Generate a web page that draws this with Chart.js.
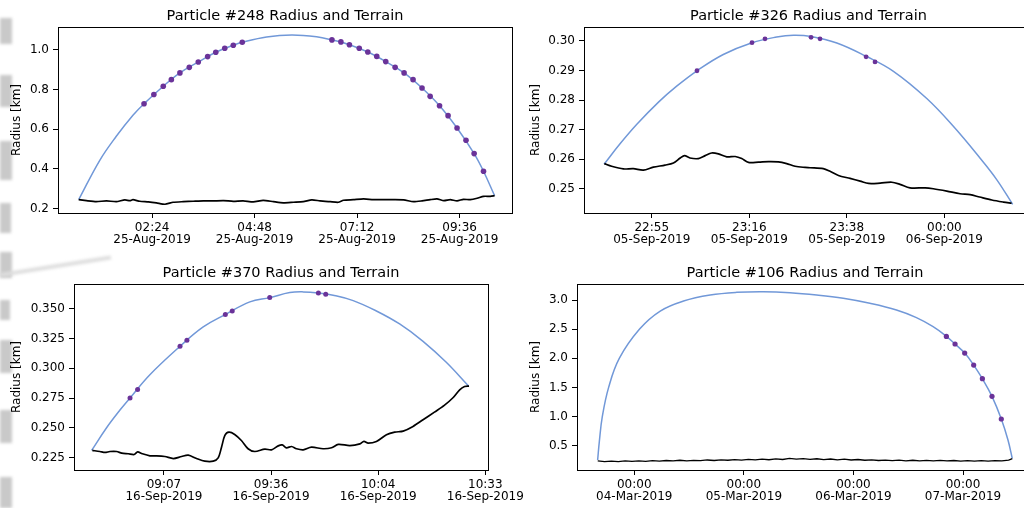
<!DOCTYPE html>
<html>
<head>
<meta charset="utf-8">
<script src="https://cdn.jsdelivr.net/npm/chart.js@4.4.0/dist/chart.umd.min.js"></script>
<style>
html, body { margin: 0; padding: 0; width: 1024px; height: 508px; overflow: hidden; background: #fff; }
canvas { position: absolute; }
.smudge { position: absolute; left: 0; background: #c9c9c9; filter: blur(1.5px); }
</style>
</head>
<body>
<div class="smudge" style="top:18px;height:26px;width:12px"></div>
<div class="smudge" style="top:75px;height:32px;width:12px"></div>
<div class="smudge" style="top:141px;height:39px;width:12px"></div>
<div class="smudge" style="top:203px;height:30px;width:11px"></div>
<div class="smudge" style="top:252px;height:26px;width:12px"></div>
<div class="smudge" style="top:273px;left:0;height:4px;width:112px;background:#dedede;transform:rotate(-9deg);transform-origin:0 0"></div>
<div class="smudge" style="top:300px;height:20px;width:10px"></div>
<div class="smudge" style="top:340px;height:33px;width:12px"></div>
<div class="smudge" style="top:410px;height:33px;width:12px"></div>
<div class="smudge" style="top:477px;height:31px;width:12px"></div>

<canvas id="p248"></canvas>
<canvas id="p326"></canvas>
<canvas id="p370"></canvas>
<canvas id="p106"></canvas>

<script>
// x values are hours from midnight of the first day shown in each panel

// Particle #248 (25-Aug-2019)
const p248RadX = [0.68, 1.17, 1.56, 1.95, 2.21, 2.66, 3.05, 3.48, 3.89, 4.30, 4.51, 5.08, 5.67, 6.25, 6.61, 7.02, 7.45, 7.87, 8.30, 8.72, 9.13, 9.54, 9.94, 10.16, 10.42];
const p248RadY = [0.245, 0.442, 0.564, 0.670, 0.728, 0.816, 0.883, 0.938, 0.987, 1.022, 1.037, 1.064, 1.074, 1.065, 1.049, 1.025, 0.988, 0.940, 0.883, 0.807, 0.718, 0.606, 0.477, 0.388, 0.265];
const p248DotX = [2.21, 2.44, 2.66, 2.85, 3.05, 3.27, 3.48, 3.70, 3.89, 4.10, 4.30, 4.51, 6.61, 6.82, 7.02, 7.25, 7.45, 7.66, 7.87, 8.09, 8.30, 8.51, 8.72, 8.91, 9.13, 9.33, 9.54, 9.75, 9.94, 10.16];
const p248DotY = [0.728, 0.774, 0.816, 0.849, 0.883, 0.911, 0.938, 0.965, 0.987, 1.007, 1.022, 1.037, 1.049, 1.039, 1.025, 1.007, 0.988, 0.966, 0.940, 0.911, 0.883, 0.849, 0.807, 0.765, 0.718, 0.668, 0.606, 0.544, 0.477, 0.388];
const p248TerX = [0.68, 0.86, 1.09, 1.33, 1.56, 1.76, 1.88, 1.95, 2.11, 2.31, 2.50, 2.70, 2.89, 3.13, 3.36, 3.60, 3.83, 4.07, 4.30, 4.53, 4.77, 5.00, 5.24, 5.47, 5.71, 5.94, 6.14, 6.33, 6.57, 6.76, 6.88, 7.11, 7.35, 7.58, 7.82, 8.05, 8.29, 8.52, 8.72, 8.91, 9.07, 9.23, 9.38, 9.54, 9.69, 9.85, 10.01, 10.16, 10.32, 10.42];
const p248TerY = [0.245, 0.240, 0.235, 0.239, 0.235, 0.244, 0.240, 0.245, 0.237, 0.234, 0.229, 0.222, 0.232, 0.235, 0.237, 0.239, 0.239, 0.240, 0.237, 0.239, 0.234, 0.242, 0.235, 0.229, 0.232, 0.235, 0.244, 0.239, 0.235, 0.232, 0.242, 0.245, 0.249, 0.245, 0.245, 0.245, 0.244, 0.235, 0.239, 0.245, 0.249, 0.240, 0.245, 0.239, 0.247, 0.245, 0.252, 0.262, 0.262, 0.265];
const p248TickX = [2.4, 4.8, 7.2, 9.6];
const p248TickLabels = [['02:24', '25-Aug-2019'], ['04:48', '25-Aug-2019'], ['07:12', '25-Aug-2019'], ['09:36', '25-Aug-2019']];
const p248TickY = [0.2, 0.4, 0.6, 0.8, 1.0];
const p248TickYLabels = ['0.2', '0.4', '0.6', '0.8', '1.0'];

// Particle #326 (05-Sep-2019)
const p326RadX = [22.744, 22.803, 22.865, 22.945, 23.012, 23.087, 23.184, 23.290, 23.381, 23.443, 23.508, 23.603, 23.711, 23.812, 23.935, 24.033, 24.132, 24.193, 24.252];
const p326RadY = [0.2583, 0.2652, 0.2718, 0.2793, 0.2847, 0.2899, 0.2954, 0.2994, 0.3013, 0.3019, 0.3015, 0.2993, 0.2948, 0.2897, 0.2805, 0.2711, 0.2603, 0.2531, 0.2447];
const p326DotX = [23.087, 23.290, 23.338, 23.508, 23.541, 23.711, 23.744];
const p326DotY = [0.2899, 0.2994, 0.3007, 0.3012, 0.3007, 0.2946, 0.2929];
const p326TerX = [22.745, 22.772, 22.815, 22.852, 22.889, 22.926, 22.969, 23.000, 23.025, 23.041, 23.061, 23.092, 23.117, 23.141, 23.166, 23.197, 23.228, 23.252, 23.277, 23.314, 23.351, 23.387, 23.418, 23.449, 23.486, 23.504, 23.553, 23.578, 23.609, 23.652, 23.689, 23.720, 23.763, 23.806, 23.836, 23.873, 23.929, 23.959, 24.009, 24.058, 24.095, 24.130, 24.175, 24.218, 24.248];
const p326TerY = [0.2585, 0.2576, 0.2567, 0.2568, 0.2563, 0.2573, 0.2580, 0.2587, 0.2604, 0.2612, 0.2604, 0.2602, 0.2612, 0.2621, 0.2618, 0.2608, 0.2609, 0.2602, 0.2589, 0.2590, 0.2592, 0.2591, 0.2585, 0.2576, 0.2572, 0.2571, 0.2568, 0.2559, 0.2545, 0.2535, 0.2526, 0.2518, 0.2519, 0.2522, 0.2515, 0.2503, 0.2503, 0.2500, 0.2492, 0.2483, 0.2480, 0.2472, 0.2462, 0.2455, 0.2451];
const p326TickX = [22.92, 23.28, 23.64, 24.0];
const p326TickLabels = [['22:55', '05-Sep-2019'], ['23:16', '05-Sep-2019'], ['23:38', '05-Sep-2019'], ['00:00', '06-Sep-2019']];
const p326TickY = [0.25, 0.26, 0.27, 0.28, 0.29, 0.30];
const p326TickYLabels = ['0.25', '0.26', '0.27', '0.28', '0.29', '0.30'];

// Particle #370 (16-Sep-2019)
const p370RadX = [8.796, 8.863, 8.923, 8.968, 9.057, 9.192, 9.296, 9.395, 9.505, 9.594, 9.684, 9.744, 9.812, 9.878, 9.968, 10.072, 10.176, 10.281, 10.385, 10.485];
const p370RadY = [0.2312, 0.2502, 0.2650, 0.2751, 0.2946, 0.3184, 0.3346, 0.3450, 0.3556, 0.3592, 0.3634, 0.3640, 0.3631, 0.3612, 0.3567, 0.3480, 0.3371, 0.3226, 0.3050, 0.2851];
const p370DotX = [8.968, 9.002, 9.192, 9.223, 9.395, 9.426, 9.594, 9.812, 9.845];
const p370DotY = [0.2751, 0.2823, 0.3184, 0.3234, 0.3450, 0.3480, 0.3592, 0.3631, 0.3620];
const p370TerX = [8.799, 8.833, 8.856, 8.878, 8.908, 8.931, 8.960, 8.987, 9.002, 9.023, 9.057, 9.087, 9.124, 9.162, 9.199, 9.229, 9.266, 9.303, 9.341, 9.363, 9.378, 9.393, 9.411, 9.437, 9.467, 9.497, 9.527, 9.572, 9.602, 9.632, 9.650, 9.669, 9.692, 9.714, 9.744, 9.781, 9.833, 9.871, 9.901, 9.953, 9.998, 10.016, 10.035, 10.072, 10.117, 10.154, 10.192, 10.236, 10.281, 10.332, 10.376, 10.415, 10.445, 10.467, 10.487];
const p370TerY = [0.2312, 0.2303, 0.2295, 0.2303, 0.2303, 0.2289, 0.2284, 0.2278, 0.2300, 0.2284, 0.2267, 0.2267, 0.2261, 0.2244, 0.2261, 0.2272, 0.2244, 0.2222, 0.2222, 0.2250, 0.2339, 0.2437, 0.2465, 0.2446, 0.2395, 0.2326, 0.2303, 0.2323, 0.2317, 0.2350, 0.2358, 0.2334, 0.2345, 0.2326, 0.2317, 0.2339, 0.2326, 0.2334, 0.2362, 0.2353, 0.2367, 0.2387, 0.2373, 0.2387, 0.2443, 0.2465, 0.2474, 0.2513, 0.2569, 0.2633, 0.2689, 0.2753, 0.2820, 0.2848, 0.2851];
const p370TickX = [9.12, 9.6, 10.08, 10.56];
const p370TickLabels = [['09:07', '16-Sep-2019'], ['09:36', '16-Sep-2019'], ['10:04', '16-Sep-2019'], ['10:33', '16-Sep-2019']];
const p370TickY = [0.225, 0.25, 0.275, 0.3, 0.325, 0.35];
const p370TickYLabels = ['0.225', '0.250', '0.275', '0.300', '0.325', '0.350'];

// Particle #106 (03-Mar-2019)
const p106RadX = [15.98, 16.35, 17.00, 18.39, 20.72, 25.17, 29.69, 34.79, 40.62, 46.45, 52.28, 58.11, 63.94, 69.77, 75.60, 81.43, 85.80, 89.45, 92.36, 94.26, 96.37, 98.34, 100.24, 102.35, 104.39, 105.85, 106.79];
const p106RadY = [0.254, 0.569, 0.998, 1.501, 1.999, 2.502, 2.811, 2.983, 3.086, 3.132, 3.143, 3.126, 3.086, 3.029, 2.943, 2.828, 2.697, 2.542, 2.376, 2.245, 2.090, 1.884, 1.650, 1.347, 0.958, 0.597, 0.283];
const p106DotX = [92.36, 94.26, 96.37, 98.34, 100.24, 102.35, 104.39];
const p106DotY = [2.376, 2.245, 2.090, 1.884, 1.650, 1.347, 0.958];
const p106TerX = [16.0, 17.5, 19.0, 20.5, 22.0, 23.5, 25.0, 26.5, 28.0, 29.5, 31.0, 32.5, 34.0, 35.5, 37.0, 38.5, 40.0, 41.5, 43.0, 44.5, 46.0, 47.5, 49.0, 50.5, 52.0, 53.5, 55.0, 56.5, 58.0, 59.5, 61.0, 62.5, 64.0, 65.5, 67.0, 68.5, 70.0, 71.5, 73.0, 74.5, 76.0, 77.5, 79.0, 80.5, 82.0, 83.5, 85.0, 86.5, 88.0, 89.5, 91.0, 92.5, 94.0, 95.5, 97.0, 98.5, 100.0, 101.5, 103.0, 104.5, 106.0, 106.8];
const p106TerY = [0.240, 0.228, 0.236, 0.226, 0.238, 0.230, 0.241, 0.232, 0.244, 0.236, 0.246, 0.238, 0.250, 0.241, 0.249, 0.243, 0.255, 0.246, 0.257, 0.250, 0.262, 0.252, 0.264, 0.256, 0.268, 0.259, 0.275, 0.263, 0.281, 0.268, 0.279, 0.266, 0.276, 0.262, 0.272, 0.258, 0.268, 0.255, 0.263, 0.250, 0.258, 0.246, 0.254, 0.244, 0.252, 0.241, 0.250, 0.240, 0.248, 0.239, 0.247, 0.238, 0.246, 0.237, 0.245, 0.236, 0.244, 0.237, 0.245, 0.240, 0.252, 0.279];
const p106TickX = [24, 48, 72, 96];
const p106TickLabels = [['00:00', '04-Mar-2019'], ['00:00', '05-Mar-2019'], ['00:00', '06-Mar-2019'], ['00:00', '07-Mar-2019']];
const p106TickY = [0.5, 1.0, 1.5, 2.0, 2.5, 3.0];
const p106TickYLabels = ['0.5', '1.0', '1.5', '2.0', '2.5', '3.0'];

Chart.defaults.font.family = '"DejaVu Sans", sans-serif';
Chart.defaults.color = '#000';

function pts(xs, ys) {
    return xs.map((x, i) => ({ x: x, y: ys[i] }));
}

// box around the axes + title centred over the axes, like matplotlib
const framePlugin = {
    id: 'frame',
    afterDraw(chart, args, opts) {
        const { ctx, chartArea: a } = chart;
        ctx.save();
        ctx.strokeStyle = '#000';
        ctx.lineWidth = 1;
        ctx.strokeRect(Math.round(a.left) + 0.5, Math.round(a.top) + 0.5,
            Math.round(a.right - a.left), Math.round(a.bottom - a.top));
        ctx.fillStyle = '#000';
        ctx.font = '14.5px "DejaVu Sans"';
        ctx.textAlign = 'center';
        ctx.textBaseline = 'alphabetic';
        ctx.fillText(opts.text, (a.left + a.right) / 2, a.top - 7);
        ctx.restore();
    }
};

function makePanel(id, box, d) {
    const cv = document.getElementById(id);
    cv.width = box.w;
    cv.height = box.h;
    cv.style.left = box.x + 'px';
    cv.style.top = box.y + 'px';

    return new Chart(cv, {
        type: 'line',
        data: {
            datasets: [{
                data: pts(d.dotX, d.dotY),
                showLine: false,
                pointRadius: d.dotR,
                pointBackgroundColor: '#6a3399',
                pointBorderWidth: 0
            }, {
                data: pts(d.terX, d.terY),
                borderColor: '#000',
                borderWidth: d.terW,
                pointRadius: 0,
                tension: d.terTension
            }, {
                data: pts(d.radX, d.radY),
                borderColor: '#7198d8',
                borderWidth: 1.5,
                pointRadius: 0,
                tension: 0.4
            }]
        },
        options: {
            responsive: false,
            animation: false,
            devicePixelRatio: 1,
            layout: { padding: { left: 0, top: box.padTop, right: box.padRight, bottom: 0 } },
            plugins: {
                legend: { display: false },
                tooltip: { enabled: false },
                frame: { text: d.title }
            },
            scales: {
                x: {
                    type: 'linear',
                    min: d.xMin,
                    max: d.xMax,
                    afterFit: s => { s.height = box.xH; s.paddingLeft = 0; s.paddingRight = 0; },
                    afterBuildTicks: s => { s.ticks = d.tickX.map(v => ({ value: v })); },
                    ticks: {
                        autoSkip: false,
                        maxRotation: 0,
                        padding: 4,
                        font: { size: 12, lineHeight: 1.0 },
                        callback: (v, i) => d.tickLabels[i]
                    },
                    grid: { drawOnChartArea: false, tickLength: 5, color: '#000' },
                    border: { display: false }
                },
                y: {
                    min: d.yMin,
                    max: d.yMax,
                    afterFit: s => { s.width = box.yW; s.paddingTop = 0; s.paddingBottom = 0; },
                    afterBuildTicks: s => { s.ticks = d.tickY.map(v => ({ value: v })); },
                    ticks: {
                        padding: 4,
                        font: { size: 12 },
                        callback: (v, i) => d.tickYLabels[i]
                    },
                    grid: { drawOnChartArea: false, tickLength: 5, color: '#000' },
                    border: { display: false },
                    title: {
                        display: true,
                        text: 'Radius [km]',
                        font: { size: 12 },
                        padding: { top: box.titlePad, bottom: 0 }
                    }
                }
            }
        },
        plugins: [framePlugin]
    });
}

makePanel('p248', { x: 0, y: 0, w: 530, h: 253, padTop: 27, padRight: 18, yW: 58, xH: 40, titlePad: 10 }, {
    title: 'Particle #248 Radius and Terrain',
    radX: p248RadX, radY: p248RadY, dotX: p248DotX, dotY: p248DotY, terX: p248TerX, terY: p248TerY,
    tickX: p248TickX, tickLabels: p248TickLabels, tickY: p248TickY, tickYLabels: p248TickYLabels,
    xMin: 0.195, xMax: 10.827, yMin: 0.178, yMax: 1.114, dotR: 2.8, terTension: 0.2, terW: 1.7
});

makePanel('p326', { x: 520, y: 0, w: 520, h: 253, padTop: 27, padRight: 7, yW: 64, xH: 40, titlePad: 9 }, {
    title: 'Particle #326 Radius and Terrain',
    radX: p326RadX, radY: p326RadY, dotX: p326DotX, dotY: p326DotY, terX: p326TerX, terY: p326TerY,
    tickX: p326TickX, tickLabels: p326TickLabels, tickY: p326TickY, tickYLabels: p326TickYLabels,
    xMin: 22.670, xMax: 24.327, yMin: 0.2418, yMax: 0.3047, dotR: 2.4, terTension: 0.3, terW: 1.7
});

makePanel('p370', { x: 0, y: 256, w: 545, h: 252, padTop: 28, padRight: 57, yW: 74, xH: 38, titlePad: 10 }, {
    title: 'Particle #370 Radius and Terrain',
    radX: p370RadX, radY: p370RadY, dotX: p370DotX, dotY: p370DotY, terX: p370TerX, terY: p370TerY,
    tickX: p370TickX, tickLabels: p370TickLabels, tickY: p370TickY, tickYLabels: p370TickYLabels,
    xMin: 8.717, xMax: 10.572, yMin: 0.2148, yMax: 0.3706, dotR: 2.5, terTension: 0.3, terW: 1.7
});

makePanel('p106', { x: 520, y: 256, w: 520, h: 252, padTop: 28, padRight: 7, yW: 57, xH: 38, titlePad: 9 }, {
    title: 'Particle #106 Radius and Terrain',
    radX: p106RadX, radY: p106RadY, dotX: p106DotX, dotY: p106DotY, terX: p106TerX, terY: p106TerY,
    tickX: p106TickX, tickLabels: p106TickLabels, tickY: p106TickY, tickYLabels: p106TickYLabels,
    xMin: 11.46, xMax: 111.33, yMin: 0.083, yMax: 3.275, dotR: 2.6, terTension: 0, terW: 1.3
});
</script>
</body>
</html>
